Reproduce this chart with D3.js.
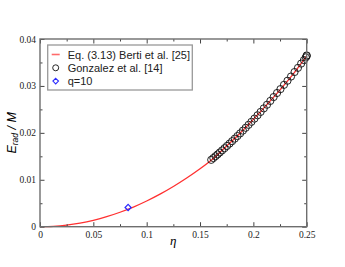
<!DOCTYPE html>
<html>
<head>
<meta charset="utf-8">
<script src="https://cdn.jsdelivr.net/npm/d3@7"></script>
<style>
  body { margin: 0; background: #fff; }
  svg { display: block; }
</style>
</head>
<body>
<script>
// Eq. (3.13) Berti et al. curve
const curveEta = [0, 0.0125, 0.025, 0.0375, 0.05, 0.0625, 0.075, 0.0875, 0.1, 0.1125, 0.125,
  0.1375, 0.15, 0.1625, 0.175, 0.1875, 0.2, 0.2125, 0.225, 0.2375, 0.25]
const curveE = [0, 0.000086, 0.00034, 0.00077, 0.00137, 0.00214, 0.00308, 0.00419, 0.00548, 0.00694, 0.00857,
  0.01038, 0.01235, 0.01455, 0.01721, 0.01993, 0.02288, 0.02597, 0.02916, 0.03255, 0.03638]

// Gonzalez et al. [14]
const gonzEta = [0.1605, 0.1625, 0.1645, 0.1665, 0.1685, 0.1707, 0.1730, 0.1753, 0.1777, 0.1801,
  0.1826, 0.1851, 0.1876, 0.1902, 0.1928, 0.1955, 0.1982, 0.2010, 0.2039, 0.2068,
  0.2098, 0.2128, 0.2159, 0.2190, 0.2222, 0.2254, 0.2287, 0.2320, 0.2353, 0.2386,
  0.2418, 0.2448, 0.2474, 0.2492, 0.2500, 0.2500]
const gonzE = [0.01425, 0.01463, 0.01502, 0.01541, 0.01581, 0.01626, 0.01673, 0.01721, 0.01771, 0.01823,
  0.01877, 0.01932, 0.01988, 0.02048, 0.02108, 0.02171, 0.02235, 0.02303, 0.02374, 0.02446,
  0.02522, 0.02599, 0.02680, 0.02763, 0.02849, 0.02932, 0.03023, 0.03111, 0.03200, 0.03296,
  0.03385, 0.03476, 0.03550, 0.03608, 0.03638, 0.03650]

// q=10
const q10Eta = [0.0826]
const q10E = [0.0041]

const xTicks = [0, 0.05, 0.1, 0.15, 0.2, 0.25]
const xTickLabels = ["0", "0.05", "0.1", "0.15", "0.2", "0.25"]
const xMinor = [0.025, 0.075, 0.125, 0.175, 0.225]
const yTicks = [0, 0.01, 0.02, 0.03, 0.04]
const yTickLabels = ["0", "0.01", "0.02", "0.03", "0.04"]
const yMinor = [0.005, 0.015, 0.025, 0.035]

const legendLabels = ["Eq. (3.13) Berti et al. [25]", "Gonzalez et al. [14]", "q=10"]

var width = 345, height = 267
var pLeft = 40, pRight = 306.7, pTop = 39, pBottom = 226.7

var svg = d3.select("body").append("svg")
  .attr("width", width).attr("height", height)

var x = d3.scaleLinear().domain([0, 0.25]).range([pLeft, pRight])
var y = d3.scaleLinear().domain([0, 0.04]).range([pBottom, pTop])

const axisColor = "#6e6e6e"
const serif = "'Liberation Serif', 'Times New Roman', serif"
const sans = "'Liberation Sans', Arial, sans-serif"

// curve
var line = d3.line().x(d => x(d[0])).y(d => y(d[1])).curve(d3.curveMonotoneX)
svg.append("path")
  .datum(curveEta.map((e, i) => [e, curveE[i]]))
  .attr("d", line)
  .attr("fill", "none")
  .attr("stroke", "#ff3030")
  .attr("stroke-width", 1.3)

// circles
svg.append("g").selectAll("circle")
  .data(gonzEta.map((e, i) => [e, gonzE[i]]))
  .enter().append("circle")
  .attr("cx", d => x(d[0])).attr("cy", d => y(d[1]))
  .attr("r", 3.6)
  .attr("fill", "none")
  .attr("stroke", "#111")
  .attr("stroke-width", 0.9)

// diamond
var diamond = d3.symbol().type(d3.symbolDiamond2).size(24)
svg.append("g").selectAll("path")
  .data(q10Eta.map((e, i) => [e, q10E[i]]))
  .enter().append("path")
  .attr("d", diamond)
  .attr("transform", d => "translate(" + x(d[0]) + "," + y(d[1]) + ")")
  .attr("fill", "none")
  .attr("stroke", "#2b2bff")
  .attr("stroke-width", 1.2)

// axes, ticks pointing inward
const styleAxis = g => {
  g.select(".domain").remove()
  g.selectAll(".tick line").attr("stroke", "#444").attr("stroke-width", 1)
  g.selectAll(".tick text").attr("fill", "#222").style("font-family", serif).style("font-size", "9.5px")
}

svg.append("g").attr("transform", "translate(0," + pBottom + ")")
  .call(d3.axisBottom(x).tickValues(xTicks).tickSize(-4.5).tickPadding(5)
    .tickFormat((d, i) => xTickLabels[i]))
  .call(styleAxis)
svg.append("g").attr("transform", "translate(0," + pBottom + ")")
  .call(d3.axisBottom(x).tickValues(xMinor).tickSize(-2.5).tickFormat(""))
  .call(styleAxis)
svg.append("g").attr("transform", "translate(0," + pTop + ")")
  .call(d3.axisTop(x).tickValues(xTicks).tickSize(-4.5).tickFormat(""))
  .call(styleAxis)
svg.append("g").attr("transform", "translate(0," + pTop + ")")
  .call(d3.axisTop(x).tickValues(xMinor).tickSize(-2.5).tickFormat(""))
  .call(styleAxis)

svg.append("g").attr("transform", "translate(" + pLeft + ",0)")
  .call(d3.axisLeft(y).tickValues(yTicks).tickSize(-4.5).tickPadding(4)
    .tickFormat((d, i) => yTickLabels[i]))
  .call(styleAxis)
svg.append("g").attr("transform", "translate(" + pLeft + ",0)")
  .call(d3.axisLeft(y).tickValues(yMinor).tickSize(-2.5).tickFormat(""))
  .call(styleAxis)
svg.append("g").attr("transform", "translate(" + pRight + ",0)")
  .call(d3.axisRight(y).tickValues(yTicks).tickSize(-4.5).tickFormat(""))
  .call(styleAxis)
svg.append("g").attr("transform", "translate(" + pRight + ",0)")
  .call(d3.axisRight(y).tickValues(yMinor).tickSize(-2.5).tickFormat(""))
  .call(styleAxis)

// frame
svg.append("rect")
  .attr("x", pLeft).attr("y", pTop)
  .attr("width", pRight - pLeft).attr("height", pBottom - pTop)
  .attr("fill", "none").attr("stroke", axisColor).attr("stroke-width", 1.4)

// axis titles
svg.append("text")
  .attr("x", (pLeft + pRight) / 2).attr("y", 245)
  .attr("text-anchor", "middle")
  .style("font-family", serif).style("font-style", "italic").style("font-size", "13px")
  .text("η")

var yl = svg.append("text")
  .attr("transform", "translate(15.5," + ((pTop + pBottom) / 2) + ") rotate(-90)")
  .attr("text-anchor", "middle")
  .style("font-family", sans).style("font-style", "italic").style("font-size", "12.5px")
yl.append("tspan").text("E")
yl.append("tspan").attr("dy", 2.8).style("font-size", "8.5px").text("rad")
yl.append("tspan").attr("dy", -2.8).text(" / M")

// legend
var lg = svg.append("g").attr("transform", "translate(47.7,45)")
lg.append("rect").attr("width", 144.6).attr("height", 45)
  .attr("fill", "#fff").attr("stroke", "#999").attr("stroke-width", 1.3)

var rows = lg.selectAll(".legends").data(legendLabels)
  .enter().append("g").classed("legends", true)
  .attr("transform", (d, i) => "translate(0," + (9.5 + i * 13.3) + ")")
rows.append("text")
  .attr("x", 20).attr("y", 4)
  .style("font-family", sans).style("font-size", "11px").attr("fill", "#222")
  .text(d => d)

lg.append("line").attr("x1", 4).attr("x2", 12).attr("y1", 9.5).attr("y2", 9.5)
  .attr("stroke", "#ff6b6b").attr("stroke-width", 1.6)
lg.append("circle").attr("cx", 8).attr("cy", 22.8).attr("r", 3)
  .attr("fill", "none").attr("stroke", "#111").attr("stroke-width", 0.9)
lg.append("path").attr("d", d3.symbol().type(d3.symbolDiamond2).size(20))
  .attr("transform", "translate(8,36.1)")
  .attr("fill", "none").attr("stroke", "#2b2bff").attr("stroke-width", 1.1)
</script>
</body>
</html>
